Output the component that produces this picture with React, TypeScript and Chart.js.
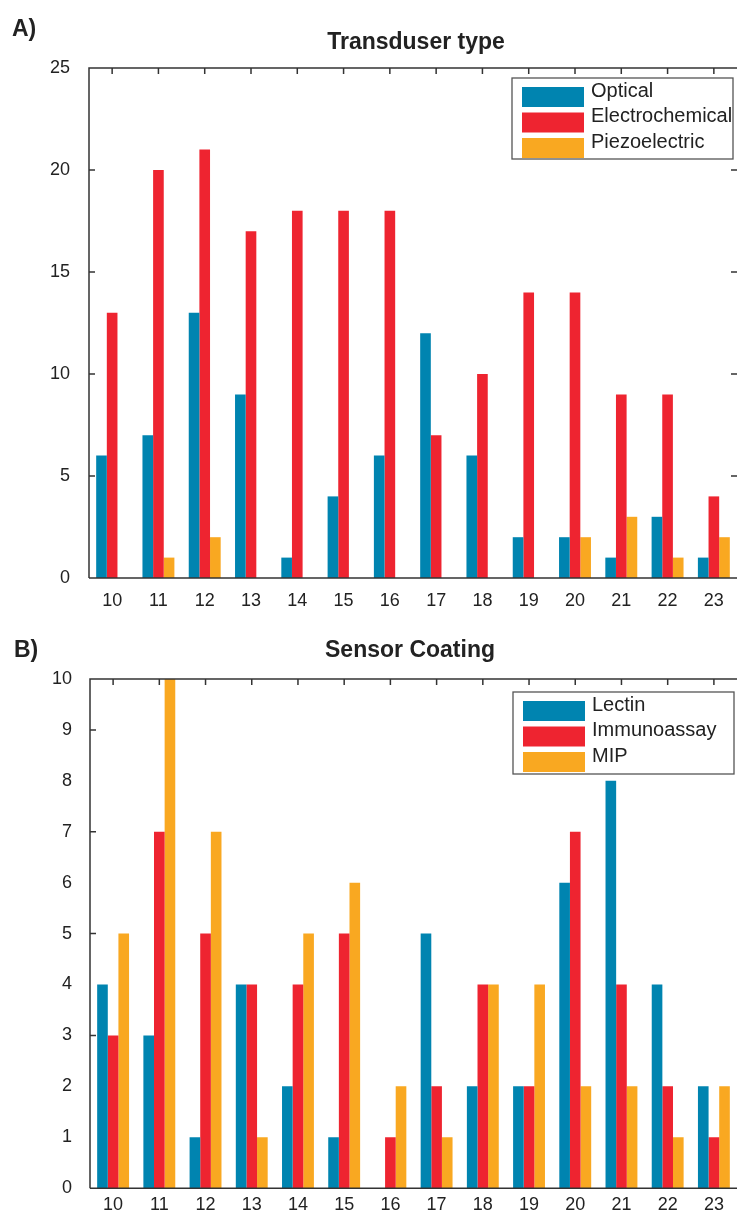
import React, { useEffect, useRef } from "react";
import { Chart, registerables } from "chart.js";

Chart.register(...registerables);

// ---------- data ----------
const years = ["10", "11", "12", "13", "14", "15", "16", "17", "18", "19", "20", "21", "22", "23"];

const transducerNames = ["Optical", "Electrochemical", "Piezoelectric"];
const optical = [6, 7, 13, 9, 1, 4, 6, 12, 6, 2, 2, 1, 3, 1];
const electrochemical = [13, 20, 21, 17, 18, 18, 18, 7, 10, 14, 14, 9, 9, 4];
const piezoelectric = [0, 1, 2, 0, 0, 0, 0, 0, 0, 0, 2, 3, 1, 2];

const coatingNames = ["Lectin", "Immunoassay", "MIP"];
const lectin = [4, 3, 1, 4, 2, 1, 0, 5, 2, 2, 6, 8, 4, 2];
const immunoassay = [3, 7, 5, 4, 4, 5, 1, 2, 4, 2, 7, 4, 2, 1];
const mip = [5, 10, 7, 1, 5, 6, 2, 1, 4, 4, 2, 2, 1, 2];

const transducerYTicks = [0, 5, 10, 15, 20, 25];
const coatingYTicks = [0, 1, 2, 3, 4, 5, 6, 7, 8, 9, 10];

const COLORS = ["#0084b0", "#ee2430", "#f9a821"];
const FONT = "'Liberation Sans', Arial, Helvetica, sans-serif";

// ---------- plugin: frame, inward ticks, legend ----------
const framePlugin = {
  id: "frame",
  afterDatasetsDraw(chart: any, _args: any, opts: any) {
    const { ctx, chartArea: a, scales } = chart;
    const xs = scales.x;
    const ys = scales.y;
    ctx.save();
    ctx.strokeStyle = "#333";
    ctx.lineWidth = 1.5;
    ctx.beginPath();
    ctx.moveTo(a.left, a.bottom);
    ctx.lineTo(a.left, a.top);
    ctx.lineTo(a.right, a.top);
    ctx.moveTo(a.left, a.bottom);
    ctx.lineTo(a.right, a.bottom);
    (opts.leftTicks || []).forEach((v: number) => {
      const p = ys.getPixelForValue(v);
      ctx.moveTo(a.left, p);
      ctx.lineTo(a.left + 6, p);
    });
    (opts.rightTicks || []).forEach((v: number) => {
      const p = ys.getPixelForValue(v);
      ctx.moveTo(a.right, p);
      ctx.lineTo(a.right - 6, p);
    });
    chart.data.labels.forEach((_l: any, i: number) => {
      const p = xs.getPixelForValue(i);
      ctx.moveTo(p, a.top);
      ctx.lineTo(p, a.top + 6);
    });
    ctx.stroke();

    // legend
    const lg = opts.legend;
    if (lg) {
      ctx.fillStyle = "#fff";
      ctx.fillRect(lg.x, lg.y, lg.w, lg.h);
      ctx.strokeStyle = "#555";
      ctx.lineWidth = 1.3;
      ctx.strokeRect(lg.x, lg.y, lg.w, lg.h);
      ctx.font = `20px ${FONT}`;
      ctx.textBaseline = "middle";
      ctx.textAlign = "left";
      chart.data.datasets.forEach((ds: any, i: number) => {
        const sy = lg.y + 9 + i * 25.5;
        ctx.fillStyle = ds.backgroundColor;
        ctx.fillRect(lg.x + 10, sy, 62, 20);
        ctx.fillStyle = "#222";
        ctx.fillText(ds.label, lg.x + 79, sy + 4);
      });
    }
    ctx.restore();
  },
};

function makeConfig(
  names: string[],
  series: number[][],
  yTicks: number[],
  step: number,
  padTop: number,
  xHeight: number,
  xPad: number,
  yWidth: number,
  yPad: number,
  frame: any
) {
  return {
    type: "bar" as const,
    data: {
      labels: years,
      datasets: series.map((s, i) => ({
        label: names[i],
        data: s,
        backgroundColor: COLORS[i],
        borderWidth: 0,
        categoryPercentage: 0.69,
        barPercentage: 1.0,
      })),
    },
    options: {
      responsive: false,
      animation: false as const,
      devicePixelRatio: 1,
      layout: { padding: { top: padTop, right: 1, left: 0, bottom: 0 } },
      plugins: {
        legend: { display: false },
        title: { display: false },
        tooltip: { enabled: false },
        frame,
      },
      scales: {
        x: {
          type: "category" as const,
          offset: true,
          grid: { display: false, drawTicks: false },
          border: { display: false },
          ticks: {
            color: "#222",
            font: { family: FONT, size: 18 },
            padding: xPad,
            maxRotation: 0,
            autoSkip: false,
          },
          afterFit: (s: any) => {
            s.height = xHeight;
          },
        },
        y: {
          min: yTicks[0],
          max: yTicks[yTicks.length - 1],
          grid: { display: false, drawTicks: false },
          border: { display: false },
          ticks: {
            stepSize: step,
            color: "#222",
            font: { family: FONT, size: 18 },
            padding: yPad,
          },
          afterFit: (s: any) => {
            s.width = yWidth;
          },
        },
      },
    },
    plugins: [framePlugin],
  };
}

function BarCanvas({ config, width, height, top }: any) {
  const ref = useRef<HTMLCanvasElement | null>(null);
  useEffect(() => {
    if (!ref.current) return;
    const chart = new Chart(ref.current, config);
    return () => chart.destroy();
  }, [config]);
  return (
    <canvas
      ref={ref}
      width={width}
      height={height}
      style={{ position: "absolute", left: 0, top, width, height }}
    />
  );
}

const configA = makeConfig(
  transducerNames,
  [optical, electrochemical, piezoelectric],
  transducerYTicks,
  5,
  68,
  42,
  12,
  89,
  19,
  {
    leftTicks: [5, 10, 15, 20],
    rightTicks: [5, 10, 15, 20],
    legend: { x: 512, y: 78, w: 221, h: 81 },
  }
);

const configB = makeConfig(
  coatingNames,
  [lectin, immunoassay, mip],
  coatingYTicks,
  1,
  59,
  25,
  6,
  90,
  18,
  {
    leftTicks: [3, 5, 7, 9],
    rightTicks: [],
    legend: { x: 513, y: 72, w: 221, h: 82 },
  }
);

const labelStyle: React.CSSProperties = {
  position: "absolute",
  fontFamily: FONT,
  fontWeight: "bold",
  fontSize: 23,
  lineHeight: "23px",
  color: "#222",
  whiteSpace: "nowrap",
};

export default function App() {
  useEffect(() => {
    document.body.style.margin = "0";
  }, []);
  return (
    <div style={{ position: "relative", width: 738, height: 1217, background: "#fff", overflow: "hidden" }}>
      <BarCanvas config={configA} width={738} height={620} top={0} />
      <BarCanvas config={configB} width={738} height={597} top={620} />
      <div style={{ ...labelStyle, left: 12, top: 17 }}>A)</div>
      <div style={{ ...labelStyle, left: 14, top: 638 }}>B)</div>
      <div style={{ ...labelStyle, left: 0, width: 832, top: 30, textAlign: "center" }}>Transduser type</div>
      <div style={{ ...labelStyle, left: 0, width: 820, top: 638, textAlign: "center" }}>Sensor Coating</div>
    </div>
  );
}
